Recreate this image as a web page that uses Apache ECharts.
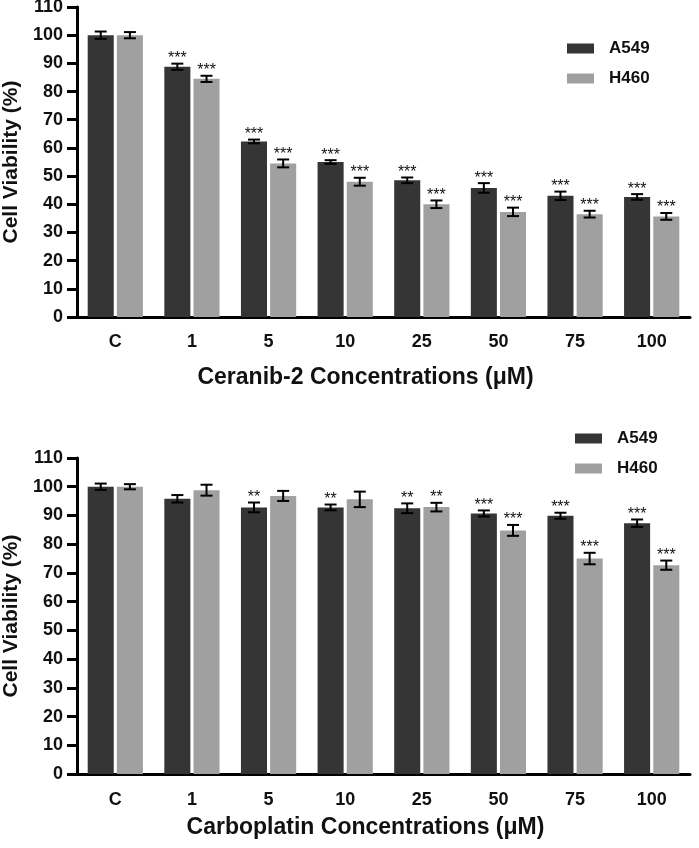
<!DOCTYPE html>
<html><head><meta charset="utf-8">
<script src="https://cdn.jsdelivr.net/npm/echarts@6/dist/echarts.min.js"></script>
<style>html,body{margin:0;padding:0;background:#fff}#c{width:699px;height:848px}</style>
</head><body><div id="c"></div>
<script>
const categories = ['C','1','5','10','25','50','75','100'];
const yTicks = [0,10,20,30,40,50,60,70,80,90,100,110];
// Ceranib-2
const cerA549 = [100, 88.8, 62.3, 55.0, 48.5, 45.8, 43.0, 42.6];
const cerA549Err = [1.3, 1.1, 0.65, 0.65, 1.0, 1.7, 1.5, 1.0];
const cerA549Sig = ['', '***','***','***','***','***','***','***'];
const cerH460 = [100, 84.5, 54.5, 48.0, 40.0, 37.3, 36.5, 35.7];
const cerH460Err = [1.1, 1.1, 1.4, 1.4, 1.35, 1.5, 1.2, 1.2];
const cerH460Sig = ['', '***','***','***','***','***','***','***'];
// Carboplatin
const carA549 = [100, 95.8, 92.8, 92.8, 92.5, 90.7, 89.9, 87.3];
const carA549Err = [1.1, 1.3, 1.7, 1.0, 1.7, 1.05, 1.05, 1.3];
const carA549Sig = ['', '', '**','**','**','***','***','***'];
const carH460 = [100, 98.8, 96.8, 95.6, 92.9, 84.8, 75.0, 72.7];
const carH460Err = [0.9, 1.9, 1.75, 2.7, 1.5, 1.9, 2.0, 1.6];
const carH460Sig = ['', '', '', '', '**','***','***','***'];

const DARK = '#353535', LIGHT = '#a0a0a0';
const FONT = '"Liberation Sans", Arial, sans-serif';
const BAR_W = 0.34, BAR_GAP = 0.12;

function errSeries(name, vals, errs, sigs, sign, gi) {
  return {
    type: 'custom', name: name + ' err', xAxisIndex: gi, yAxisIndex: gi, z: 5,
    silent: true,
    data: vals.map((v, i) => [i, v, errs[i]]),
    renderItem: function (params, api) {
      const i = api.value(0), v = api.value(1), e = api.value(2);
      const band = api.size([1, 0])[0];
      const off = sign * band * BAR_W * (1 + BAR_GAP) / 2;
      const x = api.coord([i, v])[0] + off;
      const yt = api.coord([i, v + e])[1];
      const yb = api.coord([i, v - e])[1];
      const hw = 6;
      const st = { stroke: '#000', lineWidth: 2 };
      const ch = [
        { type: 'line', shape: { x1: x, y1: yt, x2: x, y2: yb }, style: st },
        { type: 'line', shape: { x1: x - hw, y1: yt, x2: x + hw, y2: yt }, style: st },
        { type: 'line', shape: { x1: x - hw, y1: yb, x2: x + hw, y2: yb }, style: st }
      ];
      const s = sigs[params.dataIndex];
      if (s) ch.push({ type: 'text', style: { text: s, x: x, y: yt - 5, align: 'center', verticalAlign: 'middle', font: '16px ' + FONT, fill: '#111' } });
      return { type: 'group', children: ch };
    }
  };
}

function barSeries(name, vals, color, gi, last) {
  const s = { type: 'bar', name: name, data: vals, xAxisIndex: gi, yAxisIndex: gi,
    barWidth: (BAR_W * 100) + '%', itemStyle: { color: color }, silent: true };
  if (last) s.barGap = (BAR_GAP * 100) + '%';
  return s;
}

function xAxis(gi, title, margin, gap) {
  return { type: 'category', gridIndex: gi, data: categories, boundaryGap: true,
    axisLine: { lineStyle: { color: '#000', width: 3 } },
    axisTick: { alignWithLabel: true, length: 8, lineStyle: { color: '#000', width: 3 } },
    axisLabel: { color: '#111', fontFamily: FONT, fontWeight: 'bold', fontSize: 18, margin: margin },
    name: title, nameLocation: 'middle', nameGap: gap,
    nameTextStyle: { color: '#111', fontFamily: FONT, fontWeight: 'bold', fontSize: 23, padding: [0, 36, 0, 0] } };
}
function yAxis(gi) {
  return { type: 'value', gridIndex: gi, min: yTicks[0], max: yTicks[yTicks.length - 1], interval: 10,
    splitLine: { show: false },
    axisLine: { show: true, lineStyle: { color: '#000', width: 3 } },
    axisTick: { show: true, length: 10, lineStyle: { color: '#000', width: 3 } },
    axisLabel: { color: '#111', fontFamily: FONT, fontWeight: 'bold', fontSize: 18, margin: 14 },
    name: 'Cell Viability (%)', nameLocation: 'middle', nameGap: 53, nameRotate: 90,
    nameTextStyle: { color: '#111', fontFamily: FONT, fontWeight: 'bold', fontSize: 21 } };
}
function legend(left, top) {
  return { left: left, top: top, orient: 'vertical', itemWidth: 27, itemHeight: 10, itemGap: 13,
    icon: 'rect', selectedMode: false, data: ['A549', 'H460'],
    textStyle: { color: '#111', fontFamily: FONT, fontWeight: 'bold', fontSize: 17, padding: [0, 0, 0, 10] } };
}

const chart = echarts.init(document.getElementById('c'), null, { renderer: 'canvas' });
chart.setOption({
  animation: false,
  backgroundColor: '#fff',
  color: [DARK, LIGHT],
  grid: [
    { left: 77, width: 613, top: 7, height: 310, containLabel: false, outerBoundsMode: 'none' },
    { left: 77, width: 613, top: 458, height: 316, containLabel: false, outerBoundsMode: 'none' }
  ],
  legend: [legend(562, 35), legend(570, 425)],
  xAxis: [xAxis(0, 'Ceranib-2 Concentrations (\u03bcM)', 16, 49), xAxis(1, 'Carboplatin Concentrations (\u03bcM)', 17, 42)],
  yAxis: [yAxis(0), yAxis(1)],
  series: [
    barSeries('A549', cerA549, DARK, 0, false),
    barSeries('H460', cerH460, LIGHT, 0, true),
    barSeries('A549', carA549, DARK, 1, false),
    barSeries('H460', carH460, LIGHT, 1, true),
    errSeries('A549', cerA549, cerA549Err, cerA549Sig, -1, 0),
    errSeries('H460', cerH460, cerH460Err, cerH460Sig, 1, 0),
    errSeries('A549', carA549, carA549Err, carA549Sig, -1, 1),
    errSeries('H460', carH460, carH460Err, carH460Sig, 1, 1)
  ]
});
</script></body></html>
